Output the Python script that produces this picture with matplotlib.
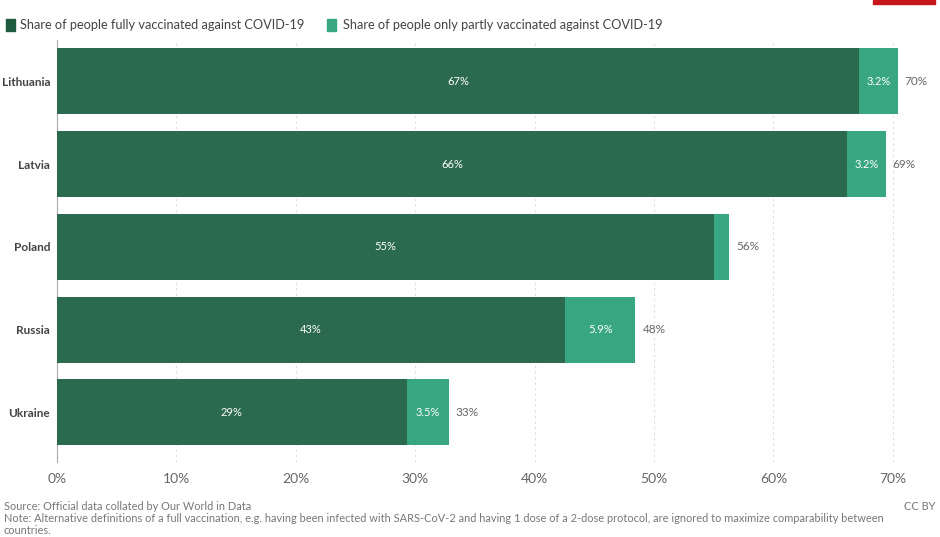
import matplotlib.pyplot as plt
from matplotlib.patches import Rectangle

plt.rcParams['font.family'] = ['Lato', 'DejaVu Sans']

# data (share of population, %)
countries = ['Lithuania', 'Latvia', 'Poland', 'Russia', 'Ukraine']
fully = [67.2, 66.2, 55.0, 42.55, 29.3]
partly = [3.2, 3.2, 1.3, 5.9, 3.5]
xticks = [0, 10, 20, 30, 40, 50, 60, 70]

dark = '#2c6a50'
light = '#38a680'
grey = '#666666'

fig = plt.figure(figsize=(9.4, 5.37), dpi=100)
ax = fig.add_axes([57 / 940, 1 - 462 / 537, (934 - 57) / 940, 422 / 537])

y = list(range(len(countries)))
ax.barh(y, fully, height=0.8, color=dark, zorder=3)
ax.barh(y, partly, left=fully, height=0.8, color=light, zorder=3)

for i in y:
    ax.text(fully[i] / 2, i, '{:.0f}%'.format(fully[i]), color='white',
            ha='center', va='center', fontsize=8, zorder=4)
    if partly[i] >= 2:
        ax.text(fully[i] + partly[i] / 2, i, '{:.1f}%'.format(partly[i]),
                color='white', ha='center', va='center', fontsize=8, zorder=4)
    total = fully[i] + partly[i]
    ax.text(total + 0.6, i, '{:.0f}%'.format(total), color=grey,
            ha='left', va='center', fontsize=8.5, zorder=4)

ax.set_xlim(0, 73.45)
ax.set_ylim(4.6, -0.5)
ax.set_yticks(y)
ax.set_yticklabels(countries, fontsize=8.5, fontweight='bold', color='#444444')
ax.set_xticks(xticks)
ax.set_xticklabels(['{}%'.format(t) for t in xticks], fontsize=10, color=grey)
ax.tick_params(axis='both', length=0)
ax.tick_params(axis='x', pad=8)
ax.tick_params(axis='y', pad=5)
ax.grid(axis='x', color='#dddddd', linestyle=(0, (2, 3)), linewidth=0.8, zorder=0)
for s in ['top', 'right', 'bottom']:
    ax.spines[s].set_visible(False)
ax.spines['left'].set_color('#aaaaaa')
ax.spines['left'].set_linewidth(0.8)

# legend
fig.patches.append(Rectangle((6 / 940, 1 - 31 / 537), 9 / 940, 12 / 537,
                             transform=fig.transFigure, color='#1d5a3e'))
fig.text(20 / 940, 1 - 25 / 537, 'Share of people fully vaccinated against COVID-19',
         fontsize=9.2, color='#444444', va='center')
fig.patches.append(Rectangle((327 / 940, 1 - 31 / 537), 9 / 940, 12 / 537,
                             transform=fig.transFigure, color=light))
fig.text(343 / 940, 1 - 25 / 537, 'Share of people only partly vaccinated against COVID-19',
         fontsize=9.2, color='#444444', va='center')

# red logo edge
fig.patches.append(Rectangle((873 / 940, 1 - 4 / 537), 62 / 940, 4 / 537,
                             transform=fig.transFigure, color='#c4161c'))

# footer
fig.text(4 / 940, 1 - 506 / 537, 'Source: Official data collated by Our World in Data',
         fontsize=7.9, color='#777777', va='center')
fig.text(935 / 940, 1 - 506 / 537, 'CC BY', fontsize=7.9, color='#777777',
         va='center', ha='right')
fig.text(4 / 940, 1 - 519 / 537,
         'Note: Alternative definitions of a full vaccination, e.g. having been infected with '
         'SARS-CoV-2 and having 1 dose of a 2-dose protocol, are ignored to maximize '
         'comparability between', fontsize=7.9, color='#777777', va='center')
fig.text(4 / 940, 1 - 531 / 537, 'countries.', fontsize=7.9, color='#777777', va='center')

fig.savefig('out.png', dpi=100)
